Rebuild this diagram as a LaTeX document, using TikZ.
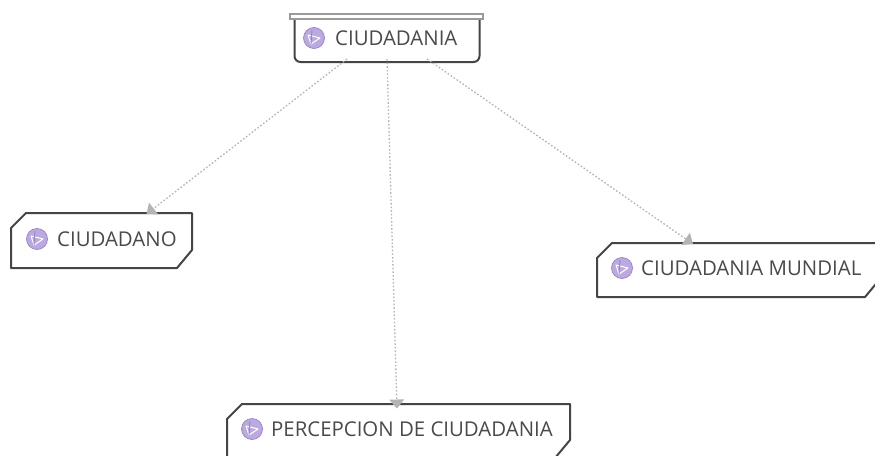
\documentclass[tikz,border=0pt]{standalone}
\usepackage{fontspec}
\setmainfont{Open Sans}
\usetikzlibrary{arrows.meta,calc}
\definecolor{edgeink}{HTML}{454545}
\definecolor{barink}{HTML}{9A9A9A}
\definecolor{linkink}{HTML}{B4B4B4}
\definecolor{labelink}{HTML}{4A4A4A}
\definecolor{iconfill}{HTML}{BBA9E0}
\definecolor{iconink}{HTML}{9583C8}
\tikzset{
  x=1pt,y=-1pt,
  chambox/.style={rectangle,inner sep=0pt,outer sep=0pt},
  chamline/.style={draw=edgeink,line width=2pt,fill=white,line join=round},
  plainbox/.style={rectangle,inner sep=0pt,outer sep=0pt,minimum width=185pt,minimum height=45pt},
  topbar/.style={rectangle,draw=barink,fill=white,line width=2pt,inner sep=0pt,outer sep=0pt,minimum width=193pt,minimum height=5.5pt},
  labeltext/.style={anchor=west,inner sep=0pt,text=labelink,font=\fontsize{20.4}{24}\selectfont},
  iconball/.style={circle,fill=iconfill,draw=iconink,line width=.7pt,minimum size=21pt,inner sep=0pt},
  link/.style={draw=linkink,line width=1.3pt,dash pattern=on 1.6pt off 2pt,-{Triangle[length=9pt,width=15pt,fill=linkink,line width=0pt,sep=0pt]}},
}
\newcommand{\swirl}[1]{%
  \draw[white,line width=1pt,line join=round] ($(#1)+(-6,-3)$) -- ($(#1)+(6,0)$) -- ($(#1)+(-3,6)$) -- cycle;
  \draw[iconink,line width=.9pt] ($(#1)+(-2,-8)$) -- ($(#1)+(-3,6)$);
}
\newcommand{\chamfer}[1]{%
  \path[chamline] ($(#1.north west)+(15,0)$) -- (#1.north east) -- ($(#1.south east)+(0,-18)$)
    -- ($(#1.south east)+(-15,0)$) -- (#1.south west) -- ($(#1.north west)+(0,15)$) -- cycle;
}
\begin{document}
\begin{tikzpicture}
\useasboundingbox (0,0) rectangle (875,455);
\fill[white] (0,0) rectangle (875,455);
\clip (0,0) rectangle (875,455);

\node[plainbox] (top) at (387,39.5) {};
\draw[edgeink,line width=2pt,rounded corners=6pt,fill=white]
  (top.north west) -- (top.south west) -- (top.south east) -- (top.north east);
\node[topbar] (bar) at (386.5,16.5) {};
\node[chambox,minimum width=181pt,minimum height=55pt] (ciudadano) at (101.5,240.5) {};
\chamfer{ciudadano}
\node[chambox,minimum width=283pt,minimum height=54pt] (mundial) at (738.5,270) {};
\chamfer{mundial}
\node[chambox,minimum width=343pt,minimum height=54pt] (percepcion) at (398.5,431) {};
\chamfer{percepcion}

\node[iconball] (i1) at (314,38) {}; \swirl{i1}
\node[labeltext] (t1) at (335,38) {CIUDADANIA};
\node[iconball] (i2) at (37,239) {}; \swirl{i2}
\node[labeltext] (t2) at (57,239) {CIUDADANO};
\node[iconball] (i3) at (622,268) {}; \swirl{i3}
\node[labeltext] (t3) at (641,268) {CIUDADANIA MUNDIAL};
\node[iconball] (i4) at (252,429) {}; \swirl{i4}
\node[labeltext] (t4) at (271,429) {PERCEPCION DE CIUDADANIA};

\draw[link] ([xshift=-40pt,yshift=3pt]top.south) -- ([xshift=45pt,yshift=-1pt]ciudadano.north);
\draw[link] ([yshift=3pt]top.south) -- ([xshift=-1.5pt,yshift=-4.5pt]percepcion.north);
\draw[link] ([xshift=40pt,yshift=3pt]top.south) -- ([xshift=-45.5pt,yshift=-1pt]mundial.north);
\end{tikzpicture}
\end{document}
